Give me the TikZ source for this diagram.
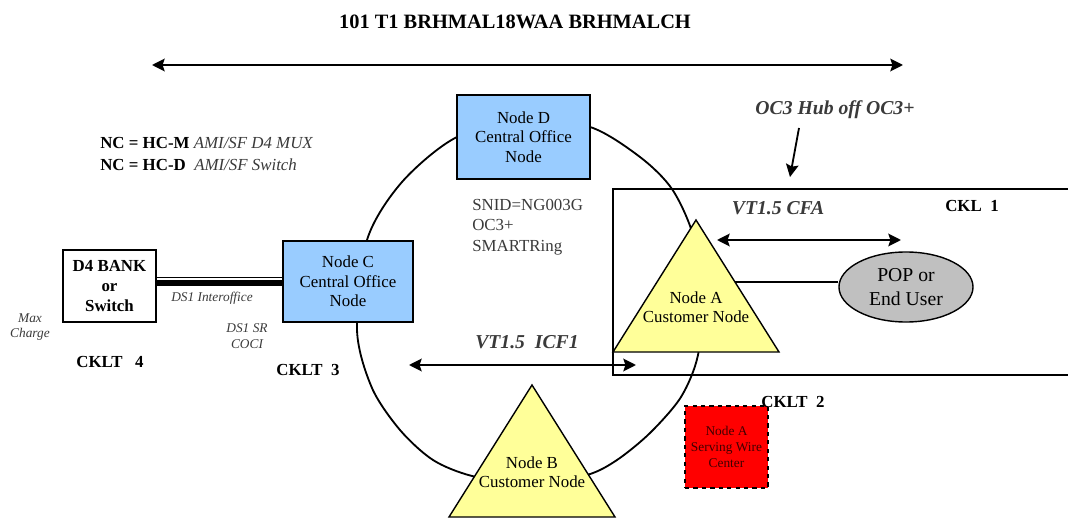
\documentclass[tikz,border=0pt]{standalone}
\usepackage{fontspec}
\setmainfont{Liberation Serif}
\usetikzlibrary{positioning}
\usetikzlibrary{calc}
\usetikzlibrary{shapes.geometric}
\usetikzlibrary{arrows.meta}
\definecolor{officeblue}{HTML}{99CCFF}
\definecolor{custyellow}{HTML}{FFFF99}
\definecolor{popgrey}{HTML}{C0C0C0}
\definecolor{labelgrey}{HTML}{3A3A3A}

\tikzset{
	cobox/.style={draw, line width=1.1pt, fill=officeblue, align=center, inner sep=0pt,
		font=\fontsize{12}{14}\selectfont},
	custtri/.style={draw, line width=1pt, fill=custyellow},
	ckltext/.style={font=\bfseries\fontsize{12}{14}\selectfont},
	vtlabel/.style={text=labelgrey, font=\bfseries\itshape\fontsize{14}{16}\selectfont},
	smallnote/.style={text=labelgrey, align=center, font=\itshape\fontsize{9.5}{11}\selectfont},
	twoway/.style={{Stealth[length=9pt,width=9pt,inset=1.5pt]}-{Stealth[length=9pt,width=9pt,inset=1.5pt]}, line width=1.5pt}
}

\begin{document}
\begin{tikzpicture}[x=0.025cm, y=-0.025cm]
				\useasboundingbox (0,0) rectangle (1068,519);

				%Coordinates
				\coordinate      (spanL) 	at 	(152,65);
				\coordinate      (spanR) 	at 	(903,65);
				\coordinate      (hubFrom) 	at 	(799,128);
				\coordinate      (hubTo) 	at 	(790,177);
				\coordinate      (cfaL) 	at 	(717,240);
				\coordinate      (cfaR) 	at 	(901,240);
				\coordinate      (icfL) 	at 	(409,365);
				\coordinate      (icfR) 	at 	(636,365);
				\coordinate      (aTop) 	at 	(696,220);
				\coordinate      (aLeft) 	at 	(613,352);
				\coordinate      (aRight) 	at 	(779,352);
				\coordinate      (bTop) 	at 	(532,385);
				\coordinate      (bLeft) 	at 	(449,517);
				\coordinate      (bRight) 	at 	(615,517);
				\coordinate      (aSide) 	at 	($(aTop)!0.47!(aRight)$);

				%Ring
				\draw[line width=1.3pt] plot[smooth cycle] coordinates {(357,330) (367,240) (402,182) (457,137) (525,122) (590,127) (640,157) (672,189) (693,235) (702,295) (698,355) (681,397) (650,433) (617,460) (587,475) (530,485) (472,476) (433,460) (400,430) (372,388)};

				%CKL 1 box
				\draw[line width=1pt] (1070,189) -- (613,189) -- (613,375) -- (1070,375);

				%Nodes
				\node[cobox, minimum width=3.325cm, minimum height=2.1cm] (nodeD) at (523.5,137) {Node D\\Central Office\\Node};
				\node[cobox, minimum width=3.25cm, minimum height=2.025cm] (nodeC) at (348,281.5) {Node C\\Central Office\\Node};
				\node[draw, line width=1.1pt, fill=white, minimum width=2.325cm, minimum height=1.8cm, align=center, inner sep=0pt,
					font=\bfseries\fontsize{12}{14}\selectfont] (bank) at (109.5,286) {D4 BANK\\or\\Switch};
				\node[ellipse, draw, line width=1pt, fill=popgrey, minimum width=3.35cm, minimum height=1.75cm, align=center, inner sep=0pt,
					font=\fontsize{14}{17}\selectfont] (pop) at (906,287) {POP or\\End User};
				\node[draw, dashed, line width=1pt, fill=red, minimum width=2.075cm, minimum height=2.05cm, align=center, inner sep=0pt,
					text=black!75!red, font=\fontsize{9.5}{11.5}\selectfont] (wire) at (726.5,447) {Node A\\Serving Wire\\Center};

				%Triangles
				\draw[custtri] (aTop) -- (aRight) -- (aLeft) -- cycle;
				\draw[custtri] (bTop) -- (bRight) -- (bLeft) -- cycle;
				\node[align=center, font=\fontsize{12}{13.5}\selectfont] (nodeA) at (696,307) {Node A\\Customer Node};
				\node[align=center, font=\fontsize{12}{13.5}\selectfont] (nodeB) at (532,472) {Node B\\Customer Node};

				%Lines
				\draw[line width=4pt] (bank.east |- 0,283) -- (nodeC.west |- 0,283);
				\draw[line width=0.8pt] (bank.east |- 0,277.5) -- (nodeC.west |- 0,277.5);
				\draw[line width=1pt] (aSide) -- (pop.west |- aSide);
				\draw[twoway] (spanL) -- (spanR);
				\draw[twoway] (cfaL) -- (cfaR);
				\draw[twoway] (icfL) -- (icfR);
				\draw[-{Stealth[length=9pt,width=9pt,inset=1.5pt]}, line width=1.3pt] (hubFrom) -- (hubTo);

				%Labels
				\node[font=\bfseries\fontsize{14.5}{16}\selectfont] (title) at (515,22) {101 T1 BRHMAL18WAA BRHMALCH};
				\node[font=\bfseries\itshape\fontsize{14}{16}\selectfont, text=labelgrey] (hub) at (835,110) {OC3 Hub off OC3+};
				\node[anchor=west, inner sep=0pt, font=\fontsize{12}{14}\selectfont] (ncM) at (100,143) {\textbf{NC = HC-M} \textcolor{labelgrey}{\textit{AMI/SF D4 MUX}}};
				\node[anchor=west, inner sep=0pt, font=\fontsize{12}{14}\selectfont] (ncD) at (100,165) {\textbf{NC = HC-D}\ \ \textcolor{labelgrey}{\textit{AMI/SF Switch}}};
				\node[anchor=west, align=left, inner sep=0pt, text=labelgrey, font=\fontsize{12}{14.5}\selectfont] (snid) at (472,227) {SNID=NG003G\\OC3+\\SMARTRing};
				\node[vtlabel] (cfa) at (778,208) {VT1.5 CFA};
				\node[vtlabel] (icf) at (527,342) {VT1.5\ \ ICF1};
				\node[ckltext] (ckl1) at (972,206) {CKL\ \ 1};
				\node[ckltext] (cklt2) at (793,402) {CKLT\ \ 2};
				\node[ckltext] (cklt3) at (308,370) {CKLT\ \ 3};
				\node[ckltext] (cklt4) at (110,362) {CKLT\ \ \ 4};
				\node[smallnote] (interoffice) at (212,298) {DS1 Interoffice};
				\node[smallnote] (coci) at (247,336) {DS1 SR\\COCI};
				\node[smallnote] (charge) at (30,327) {Max\\Charge};

			\end{tikzpicture}
\end{document}
